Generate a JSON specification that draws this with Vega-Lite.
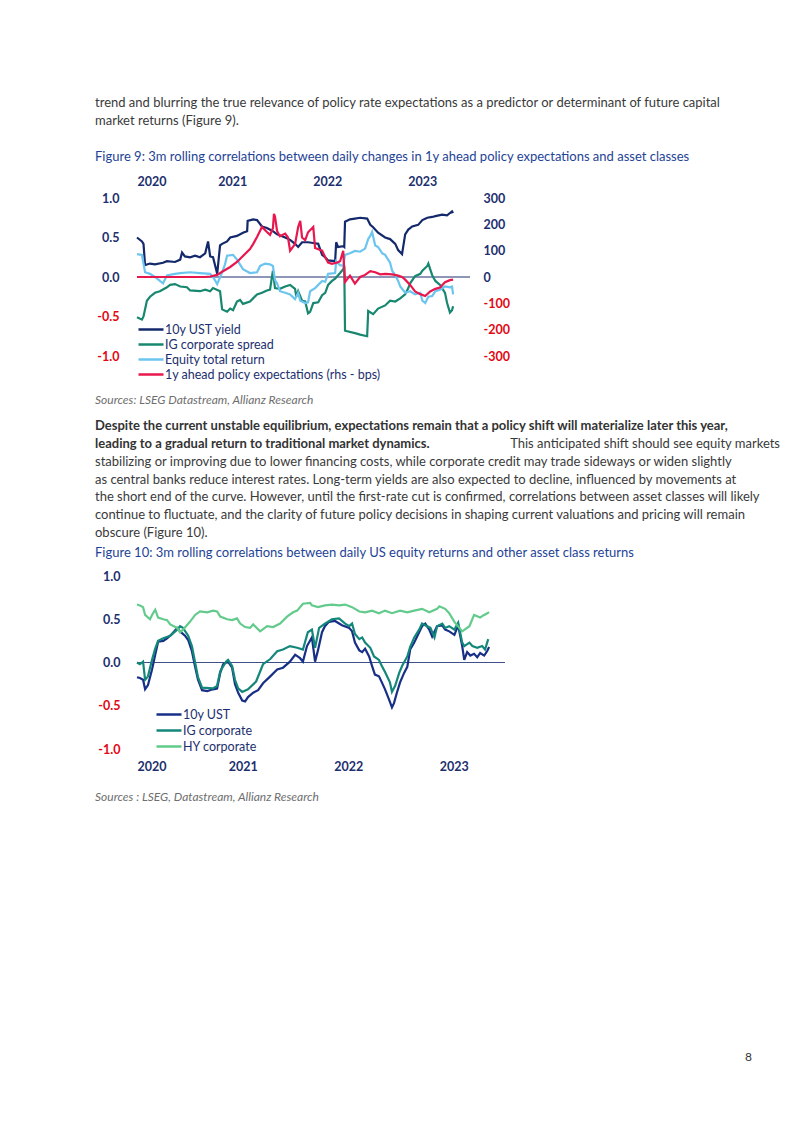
{
"$schema": "https://vega.github.io/schema/vega-lite/v6.json",
"background": "white",
"padding": {"left": 95, "top": 94, "right": 0, "bottom": 0},
"spacing": 0,
"bounds": "flush",
"resolve": {"scale": {"color": "independent"}, "legend": {"color": "independent"}},
"config": {
  "font": "Lato",
  "view": {"stroke": null},
  "axis": {"labelFont": "Lato", "labelFontSize": 12.5, "labelFontWeight": "bold", "labelColor": "#1c2f6e", "domain": false, "ticks": false, "tickSize": 0, "grid": false, "title": null}
},
"datasets": {
"fig9": [
{"series":"10y UST yield","date":"2020-01-01","value":0.50},{"series":"10y UST yield","date":"2020-01-20","value":0.45},{"series":"10y UST yield","date":"2020-01-26","value":0.42},{"series":"10y UST yield","date":"2020-02-01","value":0.15},{"series":"10y UST yield","date":"2020-02-20","value":0.17},{"series":"10y UST yield","date":"2020-03-10","value":0.16},{"series":"10y UST yield","date":"2020-04-10","value":0.18},{"series":"10y UST yield","date":"2020-04-25","value":0.20},{"series":"10y UST yield","date":"2020-05-26","value":0.19},{"series":"10y UST yield","date":"2020-06-15","value":0.22},{"series":"10y UST yield","date":"2020-06-22","value":0.31},{"series":"10y UST yield","date":"2020-07-03","value":0.26},{"series":"10y UST yield","date":"2020-07-23","value":0.25},{"series":"10y UST yield","date":"2020-08-11","value":0.27},{"series":"10y UST yield","date":"2020-08-30","value":0.25},{"series":"10y UST yield","date":"2020-09-19","value":0.30},{"series":"10y UST yield","date":"2020-09-30","value":0.45},{"series":"10y UST yield","date":"2020-10-08","value":0.26},{"series":"10y UST yield","date":"2020-10-19","value":0.25},{"series":"10y UST yield","date":"2020-11-04","value":0.04},{"series":"10y UST yield","date":"2020-11-15","value":0.40},{"series":"10y UST yield","date":"2020-11-23","value":0.42},{"series":"10y UST yield","date":"2020-12-12","value":0.45},{"series":"10y UST yield","date":"2020-12-24","value":0.50},{"series":"10y UST yield","date":"2021-01-19","value":0.52},{"series":"10y UST yield","date":"2021-02-11","value":0.56},{"series":"10y UST yield","date":"2021-02-27","value":0.58},{"series":"10y UST yield","date":"2021-03-01","value":0.71},{"series":"10y UST yield","date":"2021-03-22","value":0.73},{"series":"10y UST yield","date":"2021-04-06","value":0.72},{"series":"10y UST yield","date":"2021-04-25","value":0.64},{"series":"10y UST yield","date":"2021-05-14","value":0.62},{"series":"10y UST yield","date":"2021-06-06","value":0.58},{"series":"10y UST yield","date":"2021-06-22","value":0.54},{"series":"10y UST yield","date":"2021-07-23","value":0.50},{"series":"10y UST yield","date":"2021-08-11","value":0.47},{"series":"10y UST yield","date":"2021-08-30","value":0.42},{"series":"10y UST yield","date":"2021-09-11","value":0.38},{"series":"10y UST yield","date":"2021-09-26","value":0.44},{"series":"10y UST yield","date":"2021-10-19","value":0.44},{"series":"10y UST yield","date":"2021-11-08","value":0.43},{"series":"10y UST yield","date":"2021-11-27","value":0.42},{"series":"10y UST yield","date":"2021-12-12","value":0.28},{"series":"10y UST yield","date":"2021-12-24","value":0.25},{"series":"10y UST yield","date":"2022-01-04","value":0.21},{"series":"10y UST yield","date":"2022-01-31","value":0.20},{"series":"10y UST yield","date":"2022-02-04","value":0.44},{"series":"10y UST yield","date":"2022-02-11","value":0.38},{"series":"10y UST yield","date":"2022-03-03","value":0.39},{"series":"10y UST yield","date":"2022-03-07","value":0.38},{"series":"10y UST yield","date":"2022-03-10","value":0.70},{"series":"10y UST yield","date":"2022-03-29","value":0.73},{"series":"10y UST yield","date":"2022-04-17","value":0.74},{"series":"10y UST yield","date":"2022-05-07","value":0.75},{"series":"10y UST yield","date":"2022-06-03","value":0.74},{"series":"10y UST yield","date":"2022-06-15","value":0.66},{"series":"10y UST yield","date":"2022-06-26","value":0.63},{"series":"10y UST yield","date":"2022-07-15","value":0.56},{"series":"10y UST yield","date":"2022-08-11","value":0.50},{"series":"10y UST yield","date":"2022-08-30","value":0.48},{"series":"10y UST yield","date":"2022-09-19","value":0.42},{"series":"10y UST yield","date":"2022-09-30","value":0.34},{"series":"10y UST yield","date":"2022-10-15","value":0.29},{"series":"10y UST yield","date":"2022-10-27","value":0.54},{"series":"10y UST yield","date":"2022-11-08","value":0.60},{"series":"10y UST yield","date":"2022-11-23","value":0.64},{"series":"10y UST yield","date":"2022-12-16","value":0.66},{"series":"10y UST yield","date":"2023-01-01","value":0.72},{"series":"10y UST yield","date":"2023-01-20","value":0.75},{"series":"10y UST yield","date":"2023-02-08","value":0.76},{"series":"10y UST yield","date":"2023-02-20","value":0.77},{"series":"10y UST yield","date":"2023-03-18","value":0.79},{"series":"10y UST yield","date":"2023-04-06","value":0.78},{"series":"10y UST yield","date":"2023-04-17","value":0.81},{"series":"10y UST yield","date":"2023-04-25","value":0.83},{"series":"10y UST yield","date":"2023-04-29","value":0.81},
{"series":"IG corporate spread","date":"2020-01-01","value":-0.51},{"series":"IG corporate spread","date":"2020-01-20","value":-0.54},{"series":"IG corporate spread","date":"2020-01-26","value":-0.50},{"series":"IG corporate spread","date":"2020-02-08","value":-0.30},{"series":"IG corporate spread","date":"2020-02-20","value":-0.25},{"series":"IG corporate spread","date":"2020-03-10","value":-0.20},{"series":"IG corporate spread","date":"2020-03-29","value":-0.18},{"series":"IG corporate spread","date":"2020-04-25","value":-0.13},{"series":"IG corporate spread","date":"2020-05-07","value":-0.10},{"series":"IG corporate spread","date":"2020-05-26","value":-0.09},{"series":"IG corporate spread","date":"2020-06-15","value":-0.12},{"series":"IG corporate spread","date":"2020-07-11","value":-0.13},{"series":"IG corporate spread","date":"2020-07-23","value":-0.17},{"series":"IG corporate spread","date":"2020-08-30","value":-0.18},{"series":"IG corporate spread","date":"2020-09-19","value":-0.16},{"series":"IG corporate spread","date":"2020-10-08","value":-0.18},{"series":"IG corporate spread","date":"2020-10-19","value":-0.14},{"series":"IG corporate spread","date":"2020-11-15","value":-0.18},{"series":"IG corporate spread","date":"2020-11-23","value":-0.41},{"series":"IG corporate spread","date":"2020-12-12","value":-0.44},{"series":"IG corporate spread","date":"2020-12-24","value":-0.40},{"series":"IG corporate spread","date":"2021-01-04","value":-0.42},{"series":"IG corporate spread","date":"2021-01-19","value":-0.31},{"series":"IG corporate spread","date":"2021-01-31","value":-0.29},{"series":"IG corporate spread","date":"2021-02-11","value":-0.34},{"series":"IG corporate spread","date":"2021-03-10","value":-0.31},{"series":"IG corporate spread","date":"2021-04-06","value":-0.22},{"series":"IG corporate spread","date":"2021-04-25","value":-0.20},{"series":"IG corporate spread","date":"2021-05-14","value":-0.17},{"series":"IG corporate spread","date":"2021-05-26","value":-0.16},{"series":"IG corporate spread","date":"2021-06-06","value":0.08},{"series":"IG corporate spread","date":"2021-06-14","value":-0.14},{"series":"IG corporate spread","date":"2021-07-03","value":-0.15},{"series":"IG corporate spread","date":"2021-07-23","value":-0.12},{"series":"IG corporate spread","date":"2021-08-11","value":-0.10},{"series":"IG corporate spread","date":"2021-08-30","value":-0.15},{"series":"IG corporate spread","date":"2021-09-04","value":-0.25},{"series":"IG corporate spread","date":"2021-09-11","value":-0.18},{"series":"IG corporate spread","date":"2021-09-26","value":-0.30},{"series":"IG corporate spread","date":"2021-10-08","value":-0.31},{"series":"IG corporate spread","date":"2021-10-19","value":-0.46},{"series":"IG corporate spread","date":"2021-10-27","value":-0.44},{"series":"IG corporate spread","date":"2021-11-08","value":-0.33},{"series":"IG corporate spread","date":"2021-11-27","value":-0.32},{"series":"IG corporate spread","date":"2021-12-12","value":-0.23},{"series":"IG corporate spread","date":"2021-12-24","value":-0.20},{"series":"IG corporate spread","date":"2022-01-04","value":-0.10},{"series":"IG corporate spread","date":"2022-01-19","value":-0.05},{"series":"IG corporate spread","date":"2022-01-31","value":-0.02},{"series":"IG corporate spread","date":"2022-02-19","value":0.05},{"series":"IG corporate spread","date":"2022-03-03","value":0.10},{"series":"IG corporate spread","date":"2022-03-07","value":0.14},{"series":"IG corporate spread","date":"2022-03-10","value":-0.68},{"series":"IG corporate spread","date":"2022-04-17","value":-0.71},{"series":"IG corporate spread","date":"2022-05-07","value":-0.73},{"series":"IG corporate spread","date":"2022-06-03","value":-0.75},{"series":"IG corporate spread","date":"2022-06-07","value":-0.43},{"series":"IG corporate spread","date":"2022-06-26","value":-0.47},{"series":"IG corporate spread","date":"2022-07-15","value":-0.40},{"series":"IG corporate spread","date":"2022-08-11","value":-0.36},{"series":"IG corporate spread","date":"2022-08-30","value":-0.30},{"series":"IG corporate spread","date":"2022-09-19","value":-0.31},{"series":"IG corporate spread","date":"2022-10-08","value":-0.27},{"series":"IG corporate spread","date":"2022-10-27","value":-0.22},{"series":"IG corporate spread","date":"2022-11-08","value":-0.14},{"series":"IG corporate spread","date":"2022-11-15","value":-0.08},{"series":"IG corporate spread","date":"2022-12-04","value":0.01},{"series":"IG corporate spread","date":"2022-12-24","value":0.04},{"series":"IG corporate spread","date":"2023-01-01","value":0.08},{"series":"IG corporate spread","date":"2023-01-20","value":0.14},{"series":"IG corporate spread","date":"2023-01-24","value":0.17},{"series":"IG corporate spread","date":"2023-02-08","value":0.02},{"series":"IG corporate spread","date":"2023-02-20","value":-0.05},{"series":"IG corporate spread","date":"2023-03-10","value":-0.10},{"series":"IG corporate spread","date":"2023-03-29","value":-0.20},{"series":"IG corporate spread","date":"2023-04-06","value":-0.33},{"series":"IG corporate spread","date":"2023-04-17","value":-0.45},{"series":"IG corporate spread","date":"2023-04-25","value":-0.42},{"series":"IG corporate spread","date":"2023-04-29","value":-0.37},
{"series":"Equity total return","date":"2020-01-01","value":0.29},{"series":"Equity total return","date":"2020-01-20","value":0.28},{"series":"Equity total return","date":"2020-02-01","value":0.06},{"series":"Equity total return","date":"2020-02-20","value":0.04},{"series":"Equity total return","date":"2020-03-10","value":0.00},{"series":"Equity total return","date":"2020-03-29","value":-0.05},{"series":"Equity total return","date":"2020-04-10","value":-0.08},{"series":"Equity total return","date":"2020-04-25","value":0.02},{"series":"Equity total return","date":"2020-05-26","value":0.04},{"series":"Equity total return","date":"2020-06-15","value":0.05},{"series":"Equity total return","date":"2020-07-23","value":0.06},{"series":"Equity total return","date":"2020-08-30","value":0.05},{"series":"Equity total return","date":"2020-10-08","value":0.04},{"series":"Equity total return","date":"2020-10-19","value":0.00},{"series":"Equity total return","date":"2020-11-04","value":-0.09},{"series":"Equity total return","date":"2020-11-23","value":0.06},{"series":"Equity total return","date":"2020-12-04","value":0.16},{"series":"Equity total return","date":"2020-12-12","value":0.27},{"series":"Equity total return","date":"2021-01-04","value":0.28},{"series":"Equity total return","date":"2021-01-19","value":0.22},{"series":"Equity total return","date":"2021-02-11","value":0.10},{"series":"Equity total return","date":"2021-03-10","value":0.05},{"series":"Equity total return","date":"2021-04-06","value":0.06},{"series":"Equity total return","date":"2021-04-18","value":0.14},{"series":"Equity total return","date":"2021-05-07","value":0.17},{"series":"Equity total return","date":"2021-05-26","value":0.16},{"series":"Equity total return","date":"2021-06-06","value":0.14},{"series":"Equity total return","date":"2021-06-14","value":-0.04},{"series":"Equity total return","date":"2021-06-22","value":-0.08},{"series":"Equity total return","date":"2021-07-03","value":-0.18},{"series":"Equity total return","date":"2021-07-23","value":-0.20},{"series":"Equity total return","date":"2021-08-11","value":-0.22},{"series":"Equity total return","date":"2021-08-30","value":-0.28},{"series":"Equity total return","date":"2021-09-11","value":-0.20},{"series":"Equity total return","date":"2021-09-19","value":-0.30},{"series":"Equity total return","date":"2021-10-08","value":-0.33},{"series":"Equity total return","date":"2021-10-19","value":-0.32},{"series":"Equity total return","date":"2021-10-27","value":-0.18},{"series":"Equity total return","date":"2021-11-15","value":-0.14},{"series":"Equity total return","date":"2021-12-12","value":-0.05},{"series":"Equity total return","date":"2021-12-24","value":-0.06},{"series":"Equity total return","date":"2022-01-04","value":0.04},{"series":"Equity total return","date":"2022-01-31","value":0.05},{"series":"Equity total return","date":"2022-02-04","value":0.20},{"series":"Equity total return","date":"2022-02-19","value":0.15},{"series":"Equity total return","date":"2022-03-03","value":0.14},{"series":"Equity total return","date":"2022-03-10","value":0.28},{"series":"Equity total return","date":"2022-03-29","value":0.30},{"series":"Equity total return","date":"2022-04-17","value":0.33},{"series":"Equity total return","date":"2022-05-07","value":0.32},{"series":"Equity total return","date":"2022-05-26","value":0.36},{"series":"Equity total return","date":"2022-06-07","value":0.48},{"series":"Equity total return","date":"2022-06-15","value":0.52},{"series":"Equity total return","date":"2022-06-22","value":0.57},{"series":"Equity total return","date":"2022-07-04","value":0.40},{"series":"Equity total return","date":"2022-07-15","value":0.38},{"series":"Equity total return","date":"2022-07-31","value":0.30},{"series":"Equity total return","date":"2022-08-11","value":0.28},{"series":"Equity total return","date":"2022-08-30","value":0.18},{"series":"Equity total return","date":"2022-09-07","value":0.08},{"series":"Equity total return","date":"2022-09-19","value":0.02},{"series":"Equity total return","date":"2022-09-30","value":-0.05},{"series":"Equity total return","date":"2022-10-08","value":-0.12},{"series":"Equity total return","date":"2022-10-27","value":-0.20},{"series":"Equity total return","date":"2022-11-15","value":-0.18},{"series":"Equity total return","date":"2022-12-04","value":-0.22},{"series":"Equity total return","date":"2022-12-24","value":-0.20},{"series":"Equity total return","date":"2023-01-01","value":-0.30},{"series":"Equity total return","date":"2023-01-12","value":-0.33},{"series":"Equity total return","date":"2023-01-24","value":-0.25},{"series":"Equity total return","date":"2023-02-08","value":-0.24},{"series":"Equity total return","date":"2023-02-20","value":-0.18},{"series":"Equity total return","date":"2023-03-10","value":-0.16},{"series":"Equity total return","date":"2023-03-29","value":-0.12},{"series":"Equity total return","date":"2023-04-17","value":-0.13},{"series":"Equity total return","date":"2023-04-25","value":-0.12},{"series":"Equity total return","date":"2023-04-29","value":-0.22},
{"series":"1y ahead policy expectations (rhs - bps)","date":"2020-01-01","value":0},{"series":"1y ahead policy expectations (rhs - bps)","date":"2020-06-15","value":0},{"series":"1y ahead policy expectations (rhs - bps)","date":"2020-09-19","value":0},{"series":"1y ahead policy expectations (rhs - bps)","date":"2020-10-08","value":2},{"series":"1y ahead policy expectations (rhs - bps)","date":"2020-11-04","value":8},{"series":"1y ahead policy expectations (rhs - bps)","date":"2020-11-23","value":20},{"series":"1y ahead policy expectations (rhs - bps)","date":"2020-12-24","value":38},{"series":"1y ahead policy expectations (rhs - bps)","date":"2021-01-19","value":57},{"series":"1y ahead policy expectations (rhs - bps)","date":"2021-02-11","value":80},{"series":"1y ahead policy expectations (rhs - bps)","date":"2021-03-10","value":106},{"series":"1y ahead policy expectations (rhs - bps)","date":"2021-03-22","value":125},{"series":"1y ahead policy expectations (rhs - bps)","date":"2021-04-06","value":152},{"series":"1y ahead policy expectations (rhs - bps)","date":"2021-04-25","value":190},{"series":"1y ahead policy expectations (rhs - bps)","date":"2021-05-14","value":171},{"series":"1y ahead policy expectations (rhs - bps)","date":"2021-05-26","value":160},{"series":"1y ahead policy expectations (rhs - bps)","date":"2021-06-06","value":185},{"series":"1y ahead policy expectations (rhs - bps)","date":"2021-06-10","value":240},{"series":"1y ahead policy expectations (rhs - bps)","date":"2021-06-14","value":230},{"series":"1y ahead policy expectations (rhs - bps)","date":"2021-06-22","value":175},{"series":"1y ahead policy expectations (rhs - bps)","date":"2021-07-03","value":155},{"series":"1y ahead policy expectations (rhs - bps)","date":"2021-07-23","value":165},{"series":"1y ahead policy expectations (rhs - bps)","date":"2021-08-03","value":150},{"series":"1y ahead policy expectations (rhs - bps)","date":"2021-08-11","value":100},{"series":"1y ahead policy expectations (rhs - bps)","date":"2021-08-30","value":125},{"series":"1y ahead policy expectations (rhs - bps)","date":"2021-09-11","value":190},{"series":"1y ahead policy expectations (rhs - bps)","date":"2021-09-19","value":213},{"series":"1y ahead policy expectations (rhs - bps)","date":"2021-09-26","value":150},{"series":"1y ahead policy expectations (rhs - bps)","date":"2021-10-08","value":140},{"series":"1y ahead policy expectations (rhs - bps)","date":"2021-10-19","value":170},{"series":"1y ahead policy expectations (rhs - bps)","date":"2021-11-08","value":190},{"series":"1y ahead policy expectations (rhs - bps)","date":"2021-11-15","value":110},{"series":"1y ahead policy expectations (rhs - bps)","date":"2021-12-12","value":100},{"series":"1y ahead policy expectations (rhs - bps)","date":"2021-12-24","value":75},{"series":"1y ahead policy expectations (rhs - bps)","date":"2022-01-04","value":55},{"series":"1y ahead policy expectations (rhs - bps)","date":"2022-01-19","value":50},{"series":"1y ahead policy expectations (rhs - bps)","date":"2022-02-08","value":55},{"series":"1y ahead policy expectations (rhs - bps)","date":"2022-02-19","value":60},{"series":"1y ahead policy expectations (rhs - bps)","date":"2022-03-03","value":99},{"series":"1y ahead policy expectations (rhs - bps)","date":"2022-03-10","value":-19},{"series":"1y ahead policy expectations (rhs - bps)","date":"2022-03-29","value":5},{"series":"1y ahead policy expectations (rhs - bps)","date":"2022-04-17","value":-25},{"series":"1y ahead policy expectations (rhs - bps)","date":"2022-05-07","value":0},{"series":"1y ahead policy expectations (rhs - bps)","date":"2022-05-26","value":8},{"series":"1y ahead policy expectations (rhs - bps)","date":"2022-06-15","value":22},{"series":"1y ahead policy expectations (rhs - bps)","date":"2022-07-04","value":18},{"series":"1y ahead policy expectations (rhs - bps)","date":"2022-07-23","value":10},{"series":"1y ahead policy expectations (rhs - bps)","date":"2022-08-11","value":12},{"series":"1y ahead policy expectations (rhs - bps)","date":"2022-09-07","value":10},{"series":"1y ahead policy expectations (rhs - bps)","date":"2022-09-30","value":5},{"series":"1y ahead policy expectations (rhs - bps)","date":"2022-10-15","value":0},{"series":"1y ahead policy expectations (rhs - bps)","date":"2022-10-27","value":-10},{"series":"1y ahead policy expectations (rhs - bps)","date":"2022-11-15","value":-30},{"series":"1y ahead policy expectations (rhs - bps)","date":"2022-12-04","value":-55},{"series":"1y ahead policy expectations (rhs - bps)","date":"2022-12-24","value":-65},{"series":"1y ahead policy expectations (rhs - bps)","date":"2023-01-12","value":-72},{"series":"1y ahead policy expectations (rhs - bps)","date":"2023-01-31","value":-55},{"series":"1y ahead policy expectations (rhs - bps)","date":"2023-02-20","value":-45},{"series":"1y ahead policy expectations (rhs - bps)","date":"2023-03-10","value":-40},{"series":"1y ahead policy expectations (rhs - bps)","date":"2023-03-29","value":-20},{"series":"1y ahead policy expectations (rhs - bps)","date":"2023-04-17","value":-12},{"series":"1y ahead policy expectations (rhs - bps)","date":"2023-04-29","value":-10}
],
"fig10": [
{"series":"10y UST","date":"2020-01-01","value":-0.17},{"series":"10y UST","date":"2020-01-11","value":-0.18},{"series":"10y UST","date":"2020-01-22","value":-0.20},{"series":"10y UST","date":"2020-01-29","value":-0.31},{"series":"10y UST","date":"2020-02-08","value":-0.26},{"series":"10y UST","date":"2020-02-22","value":-0.08},{"series":"10y UST","date":"2020-03-04","value":0.09},{"series":"10y UST","date":"2020-03-14","value":0.24},{"series":"10y UST","date":"2020-04-01","value":0.25},{"series":"10y UST","date":"2020-04-14","value":0.28},{"series":"10y UST","date":"2020-05-01","value":0.33},{"series":"10y UST","date":"2020-05-19","value":0.40},{"series":"10y UST","date":"2020-05-29","value":0.36},{"series":"10y UST","date":"2020-06-15","value":0.31},{"series":"10y UST","date":"2020-06-26","value":0.26},{"series":"10y UST","date":"2020-07-09","value":0.13},{"series":"10y UST","date":"2020-07-20","value":-0.05},{"series":"10y UST","date":"2020-07-30","value":-0.20},{"series":"10y UST","date":"2020-08-13","value":-0.32},{"series":"10y UST","date":"2020-08-31","value":-0.33},{"series":"10y UST","date":"2020-09-20","value":-0.31},{"series":"10y UST","date":"2020-10-04","value":-0.30},{"series":"10y UST","date":"2020-10-15","value":-0.12},{"series":"10y UST","date":"2020-10-25","value":-0.02},{"series":"10y UST","date":"2020-11-11","value":0.01},{"series":"10y UST","date":"2020-11-25","value":-0.06},{"series":"10y UST","date":"2020-12-05","value":-0.25},{"series":"10y UST","date":"2020-12-16","value":-0.35},{"series":"10y UST","date":"2020-12-30","value":-0.44},{"series":"10y UST","date":"2021-01-09","value":-0.45},{"series":"10y UST","date":"2021-01-19","value":-0.40},{"series":"10y UST","date":"2021-02-06","value":-0.35},{"series":"10y UST","date":"2021-02-23","value":-0.32},{"series":"10y UST","date":"2021-03-12","value":-0.24},{"series":"10y UST","date":"2021-04-06","value":-0.16},{"series":"10y UST","date":"2021-04-30","value":-0.08},{"series":"10y UST","date":"2021-05-20","value":-0.06},{"series":"10y UST","date":"2021-06-13","value":0.01},{"series":"10y UST","date":"2021-07-01","value":0.09},{"series":"10y UST","date":"2021-07-18","value":0.05},{"series":"10y UST","date":"2021-07-28","value":0.01},{"series":"10y UST","date":"2021-08-11","value":0.19},{"series":"10y UST","date":"2021-08-28","value":0.29},{"series":"10y UST","date":"2021-09-08","value":0.01},{"series":"10y UST","date":"2021-09-18","value":0.14},{"series":"10y UST","date":"2021-10-02","value":0.35},{"series":"10y UST","date":"2021-10-12","value":0.42},{"series":"10y UST","date":"2021-10-26","value":0.47},{"series":"10y UST","date":"2021-11-16","value":0.48},{"series":"10y UST","date":"2021-12-10","value":0.43},{"series":"10y UST","date":"2022-01-04","value":0.40},{"series":"10y UST","date":"2022-01-14","value":0.36},{"series":"10y UST","date":"2022-01-24","value":0.23},{"series":"10y UST","date":"2022-02-08","value":0.14},{"series":"10y UST","date":"2022-02-18","value":0.12},{"series":"10y UST","date":"2022-02-28","value":0.16},{"series":"10y UST","date":"2022-03-14","value":0.07},{"series":"10y UST","date":"2022-03-24","value":-0.04},{"series":"10y UST","date":"2022-04-03","value":-0.14},{"series":"10y UST","date":"2022-04-17","value":-0.16},{"series":"10y UST","date":"2022-04-27","value":-0.23},{"series":"10y UST","date":"2022-05-08","value":-0.31},{"series":"10y UST","date":"2022-05-22","value":-0.43},{"series":"10y UST","date":"2022-06-01","value":-0.52},{"series":"10y UST","date":"2022-06-08","value":-0.47},{"series":"10y UST","date":"2022-06-18","value":-0.35},{"series":"10y UST","date":"2022-06-29","value":-0.23},{"series":"10y UST","date":"2022-07-13","value":-0.12},{"series":"10y UST","date":"2022-07-24","value":-0.05},{"series":"10y UST","date":"2022-08-03","value":0.15},{"series":"10y UST","date":"2022-08-17","value":0.23},{"series":"10y UST","date":"2022-08-27","value":0.30},{"series":"10y UST","date":"2022-09-13","value":0.42},{"series":"10y UST","date":"2022-09-24","value":0.45},{"series":"10y UST","date":"2022-10-08","value":0.38},{"series":"10y UST","date":"2022-10-18","value":0.30},{"series":"10y UST","date":"2022-11-04","value":0.42},{"series":"10y UST","date":"2022-11-22","value":0.43},{"series":"10y UST","date":"2022-12-02","value":0.38},{"series":"10y UST","date":"2022-12-16","value":0.36},{"series":"10y UST","date":"2023-01-03","value":0.32},{"series":"10y UST","date":"2023-01-16","value":0.43},{"series":"10y UST","date":"2023-01-30","value":0.19},{"series":"10y UST","date":"2023-02-06","value":0.03},{"series":"10y UST","date":"2023-02-16","value":0.12},{"series":"10y UST","date":"2023-02-27","value":0.08},{"series":"10y UST","date":"2023-03-12","value":0.10},{"series":"10y UST","date":"2023-03-23","value":0.06},{"series":"10y UST","date":"2023-04-02","value":0.11},{"series":"10y UST","date":"2023-04-16","value":0.08},{"series":"10y UST","date":"2023-04-26","value":0.13},{"series":"10y UST","date":"2023-05-03","value":0.18},
{"series":"IG corporate","date":"2020-01-01","value":0.00},{"series":"IG corporate","date":"2020-01-11","value":-0.02},{"series":"IG corporate","date":"2020-01-22","value":0.01},{"series":"IG corporate","date":"2020-01-29","value":-0.20},{"series":"IG corporate","date":"2020-02-08","value":-0.16},{"series":"IG corporate","date":"2020-02-22","value":0.03},{"series":"IG corporate","date":"2020-03-04","value":0.16},{"series":"IG corporate","date":"2020-03-14","value":0.25},{"series":"IG corporate","date":"2020-04-01","value":0.28},{"series":"IG corporate","date":"2020-04-25","value":0.31},{"series":"IG corporate","date":"2020-05-19","value":0.38},{"series":"IG corporate","date":"2020-05-29","value":0.42},{"series":"IG corporate","date":"2020-06-08","value":0.40},{"series":"IG corporate","date":"2020-06-26","value":0.31},{"series":"IG corporate","date":"2020-07-09","value":0.19},{"series":"IG corporate","date":"2020-07-20","value":0.00},{"series":"IG corporate","date":"2020-07-30","value":-0.17},{"series":"IG corporate","date":"2020-08-13","value":-0.29},{"series":"IG corporate","date":"2020-09-20","value":-0.30},{"series":"IG corporate","date":"2020-10-04","value":-0.27},{"series":"IG corporate","date":"2020-10-15","value":-0.10},{"series":"IG corporate","date":"2020-11-04","value":0.01},{"series":"IG corporate","date":"2020-11-11","value":0.03},{"series":"IG corporate","date":"2020-11-25","value":-0.04},{"series":"IG corporate","date":"2020-12-05","value":-0.20},{"series":"IG corporate","date":"2020-12-16","value":-0.30},{"series":"IG corporate","date":"2020-12-30","value":-0.34},{"series":"IG corporate","date":"2021-01-19","value":-0.31},{"series":"IG corporate","date":"2021-02-16","value":-0.22},{"series":"IG corporate","date":"2021-03-12","value":-0.02},{"series":"IG corporate","date":"2021-04-06","value":0.04},{"series":"IG corporate","date":"2021-04-30","value":0.13},{"series":"IG corporate","date":"2021-05-20","value":0.15},{"series":"IG corporate","date":"2021-06-13","value":0.19},{"series":"IG corporate","date":"2021-07-08","value":0.17},{"series":"IG corporate","date":"2021-07-28","value":0.15},{"series":"IG corporate","date":"2021-08-14","value":0.35},{"series":"IG corporate","date":"2021-08-28","value":0.38},{"series":"IG corporate","date":"2021-09-08","value":0.17},{"series":"IG corporate","date":"2021-09-22","value":0.40},{"series":"IG corporate","date":"2021-10-12","value":0.45},{"series":"IG corporate","date":"2021-11-05","value":0.50},{"series":"IG corporate","date":"2021-11-30","value":0.51},{"series":"IG corporate","date":"2021-12-21","value":0.45},{"series":"IG corporate","date":"2022-01-04","value":0.42},{"series":"IG corporate","date":"2022-01-14","value":0.45},{"series":"IG corporate","date":"2022-01-24","value":0.33},{"series":"IG corporate","date":"2022-02-08","value":0.27},{"series":"IG corporate","date":"2022-02-18","value":0.29},{"series":"IG corporate","date":"2022-02-28","value":0.23},{"series":"IG corporate","date":"2022-03-18","value":0.17},{"series":"IG corporate","date":"2022-03-31","value":0.07},{"series":"IG corporate","date":"2022-04-17","value":0.03},{"series":"IG corporate","date":"2022-04-27","value":-0.04},{"series":"IG corporate","date":"2022-05-08","value":-0.11},{"series":"IG corporate","date":"2022-05-25","value":-0.23},{"series":"IG corporate","date":"2022-06-01","value":-0.34},{"series":"IG corporate","date":"2022-06-12","value":-0.27},{"series":"IG corporate","date":"2022-06-26","value":-0.12},{"series":"IG corporate","date":"2022-07-06","value":-0.04},{"series":"IG corporate","date":"2022-07-24","value":0.07},{"series":"IG corporate","date":"2022-08-03","value":0.18},{"series":"IG corporate","date":"2022-08-17","value":0.29},{"series":"IG corporate","date":"2022-09-03","value":0.38},{"series":"IG corporate","date":"2022-09-13","value":0.45},{"series":"IG corporate","date":"2022-09-24","value":0.43},{"series":"IG corporate","date":"2022-10-12","value":0.40},{"series":"IG corporate","date":"2022-10-26","value":0.29},{"series":"IG corporate","date":"2022-11-04","value":0.42},{"series":"IG corporate","date":"2022-11-22","value":0.45},{"series":"IG corporate","date":"2022-12-02","value":0.40},{"series":"IG corporate","date":"2022-12-16","value":0.42},{"series":"IG corporate","date":"2023-01-03","value":0.38},{"series":"IG corporate","date":"2023-01-16","value":0.46},{"series":"IG corporate","date":"2023-01-30","value":0.23},{"series":"IG corporate","date":"2023-02-06","value":0.19},{"series":"IG corporate","date":"2023-02-24","value":0.23},{"series":"IG corporate","date":"2023-03-06","value":0.19},{"series":"IG corporate","date":"2023-03-23","value":0.17},{"series":"IG corporate","date":"2023-04-09","value":0.19},{"series":"IG corporate","date":"2023-04-19","value":0.15},{"series":"IG corporate","date":"2023-04-30","value":0.27},
{"series":"HY corporate","date":"2020-01-01","value":0.67},{"series":"HY corporate","date":"2020-01-11","value":0.66},{"series":"HY corporate","date":"2020-01-22","value":0.64},{"series":"HY corporate","date":"2020-01-29","value":0.55},{"series":"HY corporate","date":"2020-02-15","value":0.50},{"series":"HY corporate","date":"2020-02-22","value":0.55},{"series":"HY corporate","date":"2020-03-04","value":0.61},{"series":"HY corporate","date":"2020-03-14","value":0.52},{"series":"HY corporate","date":"2020-04-01","value":0.50},{"series":"HY corporate","date":"2020-04-14","value":0.49},{"series":"HY corporate","date":"2020-04-25","value":0.44},{"series":"HY corporate","date":"2020-05-19","value":0.40},{"series":"HY corporate","date":"2020-05-29","value":0.35},{"series":"HY corporate","date":"2020-06-08","value":0.38},{"series":"HY corporate","date":"2020-07-02","value":0.47},{"series":"HY corporate","date":"2020-07-20","value":0.55},{"series":"HY corporate","date":"2020-08-06","value":0.59},{"series":"HY corporate","date":"2020-08-31","value":0.58},{"series":"HY corporate","date":"2020-09-20","value":0.60},{"series":"HY corporate","date":"2020-10-04","value":0.59},{"series":"HY corporate","date":"2020-10-15","value":0.53},{"series":"HY corporate","date":"2020-11-08","value":0.50},{"series":"HY corporate","date":"2020-11-25","value":0.49},{"series":"HY corporate","date":"2020-12-12","value":0.51},{"series":"HY corporate","date":"2020-12-23","value":0.45},{"series":"HY corporate","date":"2021-01-09","value":0.41},{"series":"HY corporate","date":"2021-01-26","value":0.40},{"series":"HY corporate","date":"2021-02-06","value":0.44},{"series":"HY corporate","date":"2021-03-02","value":0.36},{"series":"HY corporate","date":"2021-03-26","value":0.42},{"series":"HY corporate","date":"2021-04-16","value":0.41},{"series":"HY corporate","date":"2021-05-10","value":0.45},{"series":"HY corporate","date":"2021-06-03","value":0.53},{"series":"HY corporate","date":"2021-06-24","value":0.58},{"series":"HY corporate","date":"2021-07-08","value":0.60},{"series":"HY corporate","date":"2021-07-28","value":0.68},{"series":"HY corporate","date":"2021-08-22","value":0.69},{"series":"HY corporate","date":"2021-08-28","value":0.66},{"series":"HY corporate","date":"2021-09-18","value":0.64},{"series":"HY corporate","date":"2021-10-12","value":0.66},{"series":"HY corporate","date":"2021-11-05","value":0.67},{"series":"HY corporate","date":"2021-11-30","value":0.66},{"series":"HY corporate","date":"2021-12-21","value":0.67},{"series":"HY corporate","date":"2022-01-14","value":0.64},{"series":"HY corporate","date":"2022-02-08","value":0.59},{"series":"HY corporate","date":"2022-02-28","value":0.58},{"series":"HY corporate","date":"2022-03-24","value":0.60},{"series":"HY corporate","date":"2022-04-17","value":0.57},{"series":"HY corporate","date":"2022-05-08","value":0.60},{"series":"HY corporate","date":"2022-06-01","value":0.57},{"series":"HY corporate","date":"2022-06-29","value":0.60},{"series":"HY corporate","date":"2022-07-24","value":0.58},{"series":"HY corporate","date":"2022-08-17","value":0.60},{"series":"HY corporate","date":"2022-09-13","value":0.62},{"series":"HY corporate","date":"2022-10-08","value":0.58},{"series":"HY corporate","date":"2022-11-04","value":0.62},{"series":"HY corporate","date":"2022-11-12","value":0.65},{"series":"HY corporate","date":"2022-12-02","value":0.62},{"series":"HY corporate","date":"2022-12-16","value":0.57},{"series":"HY corporate","date":"2023-01-03","value":0.47},{"series":"HY corporate","date":"2023-01-30","value":0.36},{"series":"HY corporate","date":"2023-02-24","value":0.42},{"series":"HY corporate","date":"2023-03-12","value":0.55},{"series":"HY corporate","date":"2023-04-02","value":0.52},{"series":"HY corporate","date":"2023-04-16","value":0.55},{"series":"HY corporate","date":"2023-05-03","value":0.58}
]
},
"vconcat": [
{
  "width": 643, "height": 72,
  "data": {"values": [
    {"line": 0, "kind": "body", "text": "trend and blurring the true relevance of policy rate expectations as a predictor or determinant of future capital"},
    {"line": 1, "kind": "body", "text": "market returns (Figure 9)."},
    {"line": 3, "kind": "caption", "text": "Figure 9: 3m rolling correlations between daily changes in 1y ahead policy expectations and asset classes"}
  ]},
  "mark": {"type": "text", "align": "left", "baseline": "middle", "dx": -42, "fontSize": 13},
  "encoding": {
    "x": {"datum": "left", "type": "nominal", "scale": {"type": "point", "domain": ["left", "right"], "padding": 0}, "axis": null},
    "y": {"field": "line", "type": "ordinal", "scale": {"type": "point", "domain": [0, 1, 2, 3], "padding": 0.5}, "axis": null},
    "text": {"field": "text"},
    "color": {"field": "kind", "type": "nominal", "scale": {"domain": ["body", "caption"], "range": ["#3a3a3a", "#1e4396"]}, "legend": null}
  }
},
{"width": 643, "height": 32, "data": {"values": []}, "mark": "point"},
{
  "width": 333, "height": 158,
  "data": {"name": "fig9"},
  "resolve": {"scale": {"y": "independent"}},
  "layer": [
    {
      "data": {"values": [{}]},
      "mark": {"type": "rule", "color": "#1c2f6e", "strokeWidth": 1},
      "encoding": {"y": {"datum": 0, "type": "quantitative", "scale": {"domain": [-1, 1]}, "axis": null}}
    },
    {
      "transform": [{"filter": "datum.series !== '1y ahead policy expectations (rhs - bps)'"}],
      "mark": {"type": "line", "strokeWidth": 2.2},
      "encoding": {
        "x": {"field": "date", "type": "temporal", "scale": {"type": "utc", "domain": [{"year": 2020, "month": 1, "date": 1, "utc": true}, {"year": 2023, "month": 7, "date": 3, "utc": true}]},
              "axis": {"orient": "top", "values": [{"year": 2020, "utc": true}, {"year": 2021, "utc": true}, {"year": 2022, "utc": true}, {"year": 2023, "utc": true}], "format": "%Y", "labelPadding": 10}},
        "y": {"field": "value", "type": "quantitative", "scale": {"domain": [-1, 1]},
              "axis": {"orient": "left", "values": [-1, -0.5, 0, 0.5, 1], "labelPadding": 18,
                       "labelExpr": "datum.value < 0 ? '-' + format(-datum.value, '.1f') : format(datum.value, '.1f')",
                       "labelColor": {"condition": {"test": "datum.value < 0", "value": "#e30613"}, "value": "#1c2f6e"}}},
        "color": {"field": "series", "type": "nominal",
                  "scale": {"domain": ["10y UST yield", "IG corporate spread", "Equity total return", "1y ahead policy expectations (rhs - bps)"], "range": ["#13296b", "#17876f", "#6cc5ef", "#e8174d"]},
                  "legend": {"orient": "none", "legendX": 0, "legendY": 125, "title": null, "symbolType": "M-1,0H4", "symbolSize": 100, "symbolStrokeWidth": 2.5, "labelFontSize": 12.5, "labelFont": "Lato", "labelColor": "#1c2f6e", "labelLimit": 400, "rowPadding": 2, "padding": 0, "labelOffset": 15}}
      }
    },
    {
      "transform": [{"filter": "datum.series === '1y ahead policy expectations (rhs - bps)'"}],
      "mark": {"type": "line", "strokeWidth": 2.2},
      "encoding": {
        "x": {"field": "date", "type": "temporal",
              "axis": {"orient": "top", "values": [{"year": 2020, "utc": true}, {"year": 2021, "utc": true}, {"year": 2022, "utc": true}, {"year": 2023, "utc": true}], "format": "%Y", "labelPadding": 10}},
        "y": {"field": "value", "type": "quantitative", "scale": {"domain": [-300, 300]},
              "axis": {"orient": "right", "values": [-300, -200, -100, 0, 100, 200, 300], "labelPadding": 13,
                       "labelExpr": "datum.value < 0 ? '-' + format(-datum.value, 'd') : format(datum.value, 'd')",
                       "labelColor": {"condition": {"test": "datum.value < 0", "value": "#e30613"}, "value": "#1c2f6e"}}},
        "color": {"field": "series", "type": "nominal", "legend": null}
      }
    }
  ]
},
{"width": 643, "height": 35, "data": {"values": []}, "mark": "point"},
{
  "width": 643, "height": 18,
  "data": {"values": [{"line": 0, "text": "Sources: LSEG Datastream, Allianz Research"}]},
  "mark": {"type": "text", "align": "left", "baseline": "middle", "dx": -42, "fontSize": 12, "fontStyle": "italic", "color": "#6e6e6e"},
  "encoding": {
    "x": {"datum": "left", "type": "nominal", "scale": {"type": "point", "domain": ["left", "right"], "padding": 0}, "axis": null},
    "y": {"field": "line", "type": "ordinal", "scale": {"type": "point", "domain": [0], "padding": 0.5}, "axis": null},
    "text": {"field": "text"}
  }
},
{"width": 643, "height": 8, "data": {"values": []}, "mark": "point"},
{
  "width": 643, "height": 125,
  "encoding": {
    "y": {"field": "line", "type": "ordinal", "scale": {"type": "point", "domain": [1, 2, 3, 4, 5, 6, 7], "padding": 0.5}, "axis": null},
    "text": {"field": "text"}
  },
  "layer": [
    {
      "data": {"values": [
        {"line": 1, "text": "Despite the current unstable equilibrium, expectations remain that a policy shift will materialize later this year,"},
        {"line": 2, "text": "leading to a gradual return to traditional market dynamics."}
      ]},
      "mark": {"type": "text", "align": "left", "baseline": "middle", "dx": -42, "fontSize": 13, "fontWeight": "bold", "color": "#333333"},
      "encoding": {"x": {"datum": "left", "type": "nominal", "scale": {"type": "point", "domain": ["left", "right"], "padding": 0}, "axis": null}}
    },
    {
      "data": {"values": [
        {"line": 3, "text": "stabilizing or improving due to lower financing costs, while corporate credit may trade sideways or widen slightly"},
        {"line": 4, "text": "as central banks reduce interest rates. Long-term yields are also expected to decline, influenced by movements at"},
        {"line": 5, "text": "the short end of the curve. However, until the first-rate cut is confirmed, correlations between asset classes will likely"},
        {"line": 6, "text": "continue to fluctuate, and the clarity of future policy decisions in shaping current valuations and pricing will remain"},
        {"line": 7, "text": "obscure (Figure 10)."}
      ]},
      "mark": {"type": "text", "align": "left", "baseline": "middle", "dx": -42, "fontSize": 13, "color": "#3a3a3a"},
      "encoding": {"x": {"datum": "left", "type": "nominal", "scale": {"type": "point", "domain": ["left", "right"], "padding": 0}, "axis": null}}
    },
    {
      "data": {"values": [{"line": 2, "text": "This anticipated shift should see equity markets"}]},
      "mark": {"type": "text", "align": "right", "baseline": "middle", "fontSize": 13, "color": "#3a3a3a"},
      "encoding": {"x": {"datum": "right", "type": "nominal", "scale": {"type": "point", "domain": ["left", "right"], "padding": 0}, "axis": null}}
    }
  ]
},
{"width": 643, "height": 2, "data": {"values": []}, "mark": "point"},
{
  "width": 643, "height": 18,
  "data": {"values": [{"line": 0, "text": "Figure 10: 3m rolling correlations between daily US equity returns and other asset class returns"}]},
  "mark": {"type": "text", "align": "left", "baseline": "middle", "dx": -42, "fontSize": 13, "color": "#1e4396"},
  "encoding": {
    "x": {"datum": "left", "type": "nominal", "scale": {"type": "point", "domain": ["left", "right"], "padding": 0}, "axis": null},
    "y": {"field": "line", "type": "ordinal", "scale": {"type": "point", "domain": [0], "padding": 0.5}, "axis": null},
    "text": {"field": "text"}
  }
},
{"width": 643, "height": 14, "data": {"values": []}, "mark": "point"},
{
  "width": 368, "height": 173,
  "layer": [
    {
      "data": {"values": [{}]},
      "mark": {"type": "rule", "color": "#3f5088", "strokeWidth": 1.2},
      "encoding": {"y": {"datum": 0, "type": "quantitative", "scale": {"domain": [-1, 1]},
              "axis": {"orient": "left", "values": [-1, -0.5, 0, 0.5, 1], "labelPadding": 17,
                       "labelExpr": "datum.value < 0 ? '-' + format(-datum.value, '.1f') : format(datum.value, '.1f')",
                       "labelColor": {"condition": {"test": "datum.value < 0", "value": "#e30613"}, "value": "#1c2f6e"}}}}
    },
    {
      "data": {"name": "fig10"},
      "mark": {"type": "line", "strokeWidth": 2.2},
      "encoding": {
        "x": {"field": "date", "type": "temporal", "scale": {"type": "utc", "domain": [{"year": 2020, "month": 1, "date": 1, "utc": true}, {"year": 2023, "month": 6, "date": 27, "utc": true}]},
              "axis": {"orient": "bottom", "values": [{"year": 2020, "utc": true}, {"year": 2021, "utc": true}, {"year": 2022, "utc": true}, {"year": 2023, "utc": true}], "format": "%Y", "labelPadding": 11}},
        "y": {"field": "value", "type": "quantitative", "scale": {"domain": [-1, 1]},
              "axis": {"orient": "left", "values": [-1, -0.5, 0, 0.5, 1], "labelPadding": 17,
                       "labelExpr": "datum.value < 0 ? '-' + format(-datum.value, '.1f') : format(datum.value, '.1f')",
                       "labelColor": {"condition": {"test": "datum.value < 0", "value": "#e30613"}, "value": "#1c2f6e"}}},
        "color": {"field": "series", "type": "nominal",
                  "scale": {"domain": ["10y UST", "IG corporate", "HY corporate"], "range": ["#172f86", "#14877b", "#62cb8c"]},
                  "legend": {"orient": "none", "legendX": 18, "legendY": 132, "title": null, "symbolType": "M-1,0H4", "symbolSize": 100, "symbolStrokeWidth": 2.5, "labelFontSize": 12.5, "labelFont": "Lato", "labelColor": "#1c2f6e", "labelLimit": 400, "rowPadding": 3, "padding": 0, "labelOffset": 15}}
      }
    }
  ]
},
{"width": 643, "height": 39, "data": {"values": []}, "mark": "point"},
{
  "width": 643, "height": 18,
  "data": {"values": [{"line": 0, "text": "Sources : LSEG, Datastream, Allianz Research"}]},
  "mark": {"type": "text", "align": "left", "baseline": "middle", "dx": -42, "fontSize": 12, "fontStyle": "italic", "color": "#6e6e6e"},
  "encoding": {
    "x": {"datum": "left", "type": "nominal", "scale": {"type": "point", "domain": ["left", "right"], "padding": 0}, "axis": null},
    "y": {"field": "line", "type": "ordinal", "scale": {"type": "point", "domain": [0], "padding": 0.5}, "axis": null},
    "text": {"field": "text"}
  }
},
{"width": 643, "height": 242, "data": {"values": []}, "mark": "point"},
{
  "width": 643, "height": 18,
  "data": {"values": [{"line": 0, "text": "8"}]},
  "mark": {"type": "text", "align": "right", "baseline": "middle", "dx": -28, "fontSize": 12, "color": "#333333"},
  "encoding": {
    "x": {"datum": "right", "type": "nominal", "scale": {"type": "point", "domain": ["left", "right"], "padding": 0}, "axis": null},
    "y": {"field": "line", "type": "ordinal", "scale": {"type": "point", "domain": [0], "padding": 0.5}, "axis": null},
    "text": {"field": "text"}
  }
}
]
}
